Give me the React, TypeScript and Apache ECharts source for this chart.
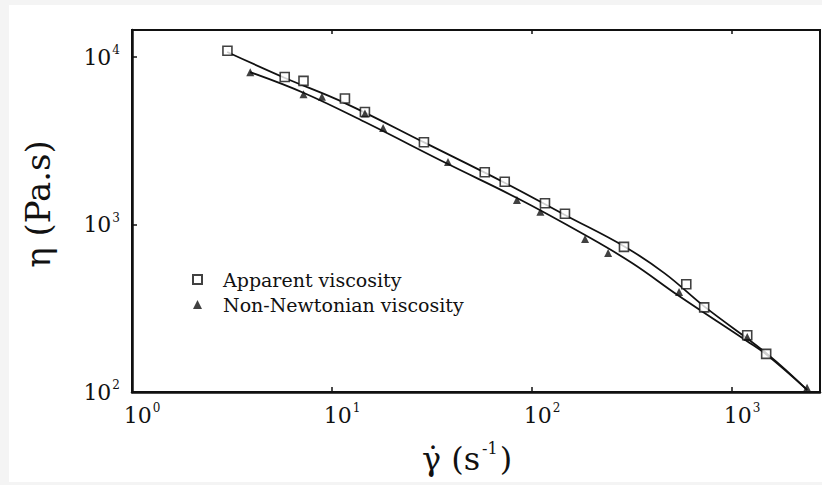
import React, { useEffect, useRef } from "react";
import * as echarts from "echarts";

// Axis ranges (log scales)
const X_MIN = 1;
const X_MAX = 2750;
const Y_MIN = 100;
const Y_MAX = 14500;

// Apparent viscosity (open squares)
const apparentX = [3.0, 5.8, 7.2, 11.6, 14.6, 28.8, 58, 73, 116, 146, 288, 590, 725, 1190, 1480];
const apparentY = [10900, 7600, 7200, 5650, 4700, 3100, 2050, 1800, 1340, 1160, 735, 440, 320, 218, 169];

// Non-Newtonian viscosity (filled triangles)
const nonNewtX = [3.9, 7.2, 8.9, 14.6, 18, 38, 84, 110, 184, 240, 543, 1190, 2370];
const nonNewtY = [8100, 6000, 5800, 4600, 3770, 2360, 1400, 1190, 820, 675, 395, 213, 106];

// Fitted curves
const apparentFitX = [2.99, 5.82, 11.6, 29.2, 73.3, 146, 292, 462, 733, 1496, 2371];
const apparentFitY = [10720, 7500, 5310, 3070, 1770, 1140, 735, 509, 321, 169, 103];
const nonNewtFitX = [3.89, 7.24, 14.6, 38, 84.1, 184, 316, 543, 1189, 1496, 2371];
const nonNewtFitY = [8130, 6100, 4090, 2296, 1439, 865, 589, 374, 201, 166, 103];

const SERIES_NAMES = ["Apparent viscosity", "Non-Newtonian viscosity"];

const FONT = "DejaVu Serif";
const INK = "#111";

const zip = (xs: number[], ys: number[]) => xs.map((x, i) => [x, ys[i]]);

const powLabel = (v: number) => {
  const l = Math.log10(v);
  const r = Math.round(l);
  if (Math.abs(l - r) > 1e-6) return "";
  return "{b|10}{s|" + r + "}";
};

const labelRich = {
  b: { fontFamily: FONT, fontSize: 22, color: INK, lineHeight: 26 },
  s: { fontFamily: FONT, fontSize: 12, color: INK, verticalAlign: "top", lineHeight: 26, padding: [0, 0, 10, 1] },
};

export default function App() {
  const ref = useRef<HTMLDivElement>(null);

  useEffect(() => {
    if (!ref.current) return;
    const chart = echarts.init(ref.current, undefined, { renderer: "svg" });
    chart.setOption({
      animation: false,
      backgroundColor: "transparent",
      grid: {
        left: 132,
        right: 2,
        top: 30,
        bottom: 93,
        show: true,
        borderColor: INK,
        borderWidth: 2,
        backgroundColor: "transparent",
      },
      legend: {
        data: SERIES_NAMES,
        orient: "vertical",
        left: 187,
        top: 265,
        itemWidth: 9,
        itemHeight: 9,
        itemGap: 6,
        textStyle: { fontFamily: FONT, fontSize: 19, color: INK, padding: [0, 0, 0, 16] },
      },
      xAxis: [
        {
          type: "log",
          logBase: 10,
          min: X_MIN,
          max: X_MAX,
          position: "bottom",
          axisLine: { lineStyle: { color: INK, width: 2.5 } },
          axisTick: { inside: true, length: 5, lineStyle: { color: INK, width: 1.5 } },
          splitLine: { show: false },
          axisLabel: {
            margin: 10,
            formatter: powLabel,
            rich: labelRich,
            padding: [0, 0, 0, 20],
            showMaxLabel: false,
          },
          name: "{t|γ̇ (s}{s|-1}{t|)}",
          nameLocation: "middle",
          nameGap: 48,
          nameTextStyle: {
            padding: [0, 18, 0, 0],
            rich: {
              t: { fontFamily: FONT, fontSize: 32, color: INK, lineHeight: 38 },
              s: { fontFamily: FONT, fontSize: 16, color: INK, verticalAlign: "top", lineHeight: 38, padding: [0, 2, 12, 2] },
            },
          },
        },
        {
          type: "log",
          logBase: 10,
          min: X_MIN,
          max: X_MAX,
          position: "top",
          axisLine: { lineStyle: { color: INK, width: 2 } },
          axisTick: { inside: true, length: 4, lineStyle: { color: INK, width: 1.5 } },
          splitLine: { show: false },
          axisLabel: { show: false },
        },
      ],
      yAxis: {
        type: "log",
        logBase: 10,
        min: Y_MIN,
        max: Y_MAX,
        axisLine: { show: true, lineStyle: { color: INK, width: 2.5 } },
        axisTick: { inside: true, length: 5, lineStyle: { color: INK, width: 1.5 } },
        splitLine: { show: false },
        axisLabel: {
          margin: 12,
          formatter: powLabel,
          rich: labelRich,
          showMaxLabel: false,
        },
      },
      graphic: [
        {
          type: "text",
          x: 38,
          y: 204,
          rotation: Math.PI / 2,
          style: {
            text: "η (Pa.s)",
            font: '34px "DejaVu Serif"',
            fill: INK,
            align: "center",
            verticalAlign: "middle",
          },
        },
      ],
      series: [
        {
          name: "Apparent fit",
          type: "line",
          smooth: 0.4,
          showSymbol: false,
          symbol: "none",
          data: zip(apparentFitX, apparentFitY),
          lineStyle: { color: INK, width: 1.8 },
          silent: true,
          z: 2,
        },
        {
          name: "Non-Newtonian fit",
          type: "line",
          smooth: 0.4,
          showSymbol: false,
          symbol: "none",
          data: zip(nonNewtFitX, nonNewtFitY),
          lineStyle: { color: INK, width: 1.8 },
          silent: true,
          z: 2,
        },
        {
          name: SERIES_NAMES[0],
          type: "scatter",
          symbol: "rect",
          symbolSize: 9,
          data: zip(apparentX, apparentY),
          itemStyle: { color: "#fff", borderColor: INK, borderWidth: 1.6 },
          z: 3,
        },
        {
          name: SERIES_NAMES[1],
          type: "scatter",
          symbol: "triangle",
          symbolSize: 8,
          data: zip(nonNewtX, nonNewtY),
          itemStyle: { color: INK },
          z: 4,
        },
      ],
    });
    return () => chart.dispose();
  }, []);

  return (
    <div style={{ position: "absolute", left: 0, top: 0, width: 822, height: 485, background: "#f4f4f4", overflow: "hidden" }}>
      <div style={{ position: "absolute", left: 9, top: 5, width: 813, height: 477, background: "#fff" }} />
      <div ref={ref} style={{ position: "absolute", left: 0, top: 0, width: 822, height: 485 }} />
    </div>
  );
}
